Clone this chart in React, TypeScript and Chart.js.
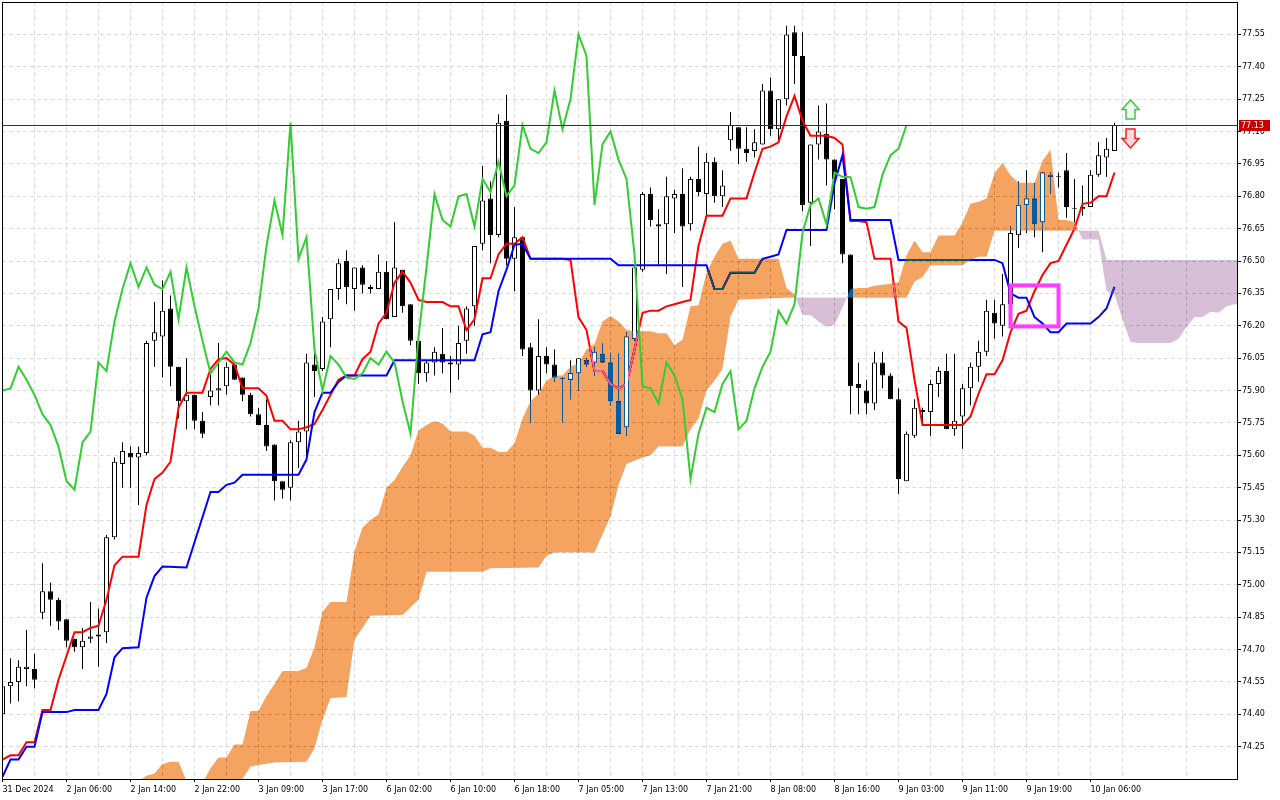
import React, { useEffect, useRef } from 'react';
import { Chart, registerables } from 'chart.js';

Chart.register(...registerables);

// H1 candles, bar 0 .. 139
const opens = [
  74.40, 74.53, 74.55, 74.61, 74.61, 74.87, 74.97, 74.93, 74.84, 74.75,
  74.71, 74.75, 74.76, 74.78, 75.22, 75.56, 75.61, 75.59, 75.61, 76.13,
  76.15, 76.28, 76.01, 75.85, 75.88, 75.76, 75.87, 75.90, 75.92, 76.02,
  75.96, 75.88, 75.79, 75.74, 75.65, 75.48, 75.45, 75.66, 75.71, 76.02,
  76.00, 76.23, 76.37, 76.50, 76.37, 76.47, 76.38, 76.37, 76.45, 76.24,
  76.46, 76.30, 76.13, 75.98, 76.03, 76.07, 76.03, 76.02, 76.13, 76.29,
  76.58, 76.79, 76.62, 77.15, 76.51, 76.61, 76.10, 75.90, 76.06, 76.02,
  75.957, 75.95, 75.98, 76.04, 76.03, 76.07, 76.03, 75.85, 75.73, 76.14,
  76.46, 76.81, 76.67, 76.67, 76.79, 76.81, 76.67, 76.88, 76.81, 76.96,
  76.80, 77.06, 77.12, 77.02, 77.01, 77.04, 77.29, 77.11, 77.25, 77.56,
  77.45, 76.77, 77.04, 77.09, 76.97, 76.88, 76.53, 75.93, 75.90, 75.84,
  76.03, 75.97, 75.86, 75.48, 75.69, 75.81, 75.80, 75.93, 75.99, 75.72,
  75.78, 75.91, 76.01, 76.08, 76.26, 76.20, 76.30, 76.62, 76.76, 76.79,
  76.68, 76.90, 76.893, 76.92, 76.745, 76.74, 76.75, 76.90, 76.98, 77.01,
];
const highs = [
  74.78, 74.66, 74.65, 74.79, 74.68, 75.10, 75.01, 74.94, 74.84, 74.75,
  74.80, 74.92, 74.89, 75.23, 75.59, 75.66, 75.64, 75.64, 76.13, 76.31,
  76.41, 76.34, 76.01, 76.05, 75.88, 75.80, 75.99, 76.12, 76.03, 76.02,
  75.96, 75.89, 75.82, 75.86, 75.65, 75.48, 75.67, 75.76, 76.07, 76.07,
  76.24, 76.37, 76.51, 76.55, 76.47, 76.48, 76.39, 76.53, 76.50, 76.68,
  76.46, 76.30, 76.13, 76.04, 76.10, 76.19, 76.06, 76.20, 76.29, 76.57,
  76.94, 76.87, 77.18, 77.27, 76.75, 76.61, 76.12, 76.23, 76.10, 76.09,
  75.96, 76.04, 76.05, 76.05, 76.10, 76.12, 76.07, 76.07, 76.17, 76.48,
  76.82, 76.84, 76.74, 76.89, 76.83, 76.93, 76.89, 77.03, 77.00, 76.98,
  76.92, 77.19, 77.12, 77.12, 77.11, 77.32, 77.35, 77.25, 77.59, 77.59,
  77.56, 77.04, 77.22, 77.23, 76.97, 76.88, 76.53, 76.03, 75.95, 76.08,
  76.08, 75.98, 75.91, 75.71, 75.86, 75.82, 75.95, 76.01, 76.07, 76.07,
  75.93, 76.03, 76.13, 76.32, 76.32, 76.44, 76.66, 76.87, 76.92, 76.86,
  76.91, 76.91, 76.91, 77.00, 76.88, 76.85, 76.92, 77.05, 77.07, 77.14,
];
const lows = [
  74.38, 74.45, 74.46, 74.53, 74.52, 74.84, 74.81, 74.79, 74.71, 74.69,
  74.61, 74.73, 74.62, 74.73, 75.21, 75.45, 75.45, 75.37, 75.60, 76.01,
  75.96, 75.92, 75.77, 75.72, 75.72, 75.68, 75.83, 75.83, 75.88, 75.95,
  75.85, 75.78, 75.74, 75.62, 75.39, 75.40, 75.39, 75.54, 75.58, 75.87,
  75.99, 76.10, 76.32, 76.30, 76.27, 76.35, 76.35, 76.37, 76.23, 76.24,
  76.26, 76.11, 75.93, 75.94, 75.97, 75.98, 75.89, 75.95, 76.07, 76.20,
  76.55, 76.49, 76.61, 76.48, 76.36, 76.06, 75.75, 75.88, 75.98, 75.94,
  75.75, 75.86, 75.90, 76.01, 75.97, 76.03, 75.83, 75.70, 75.69, 76.13,
  76.45, 76.66, 76.48, 76.44, 76.63, 76.38, 76.64, 76.80, 76.71, 76.77,
  76.75, 77.01, 76.95, 76.96, 76.98, 77.04, 77.08, 77.06, 77.22, 77.32,
  76.73, 76.57, 76.97, 76.85, 76.74, 76.49, 75.79, 75.79, 75.79, 75.81,
  75.91, 75.86, 75.42, 75.48, 75.68, 75.74, 75.69, 75.87, 75.72, 75.69,
  75.63, 75.83, 75.94, 76.06, 76.14, 76.15, 76.27, 76.56, 76.63, 76.61,
  76.54, 76.81, 76.84, 76.70, 76.68, 76.71, 76.75, 76.89, 76.89, 77.01,
];
const closes = [
  74.53, 74.55, 74.62, 74.62, 74.56, 74.97, 74.93, 74.83, 74.74, 74.71,
  74.74, 74.76, 74.77, 75.22, 75.57, 75.62, 75.59, 75.61, 76.12, 76.17,
  76.27, 76.01, 75.85, 75.88, 75.76, 75.70, 75.90, 75.91, 76.01, 75.95,
  75.88, 75.79, 75.74, 75.64, 75.48, 75.44, 75.66, 75.71, 76.03, 75.99,
  76.22, 76.37, 76.49, 76.38, 76.47, 76.39, 76.37, 76.45, 76.23, 76.47,
  76.29, 76.13, 75.98, 76.03, 76.08, 76.03, 76.02, 76.12, 76.28, 76.57,
  76.78, 76.62, 77.14, 76.51, 76.61, 76.09, 75.90, 76.06, 76.02, 75.96,
  75.953, 75.98, 76.05, 76.02, 76.08, 76.03, 75.85, 75.70, 76.15, 76.47,
  76.81, 76.69, 76.66, 76.80, 76.81, 76.66, 76.88, 76.82, 76.96, 76.80,
  76.85, 77.13, 77.02, 77.00, 77.05, 77.29, 77.11, 77.25, 77.55, 77.45,
  76.76, 77.04, 77.10, 76.97, 76.88, 76.53, 75.92, 75.91, 75.84, 76.03,
  75.97, 75.86, 75.49, 75.70, 75.82, 75.80, 75.93, 75.99, 75.72, 75.76,
  75.91, 76.01, 76.08, 76.27, 76.21, 76.30, 76.63, 76.76, 76.79, 76.67,
  76.91, 76.89, 76.888, 76.75, 76.742, 76.75, 76.90, 76.99, 77.02, 77.13,
];

// Tenkan-sen, one value per bar
const tenkan = [
  74.19, 74.21, 74.21, 74.27, 74.27, 74.42, 74.42, 74.56, 74.67, 74.78,
  74.78, 74.80, 74.81, 74.93, 75.09, 75.13, 75.13, 75.13, 75.37, 75.49,
  75.52, 75.57, 75.82, 75.89, 75.89, 75.89, 76.00, 76.045, 76.05, 76.02,
  75.91, 75.91, 75.91, 75.875, 75.76, 75.76, 75.72, 75.72, 75.73, 75.745,
  75.81, 75.88, 75.95, 75.97, 75.97, 76.045, 76.08, 76.21, 76.26, 76.40,
  76.45, 76.40, 76.32, 76.31, 76.31, 76.31, 76.29, 76.29, 76.18, 76.23,
  76.42, 76.42, 76.53, 76.58, 76.58, 76.61, 76.51, 76.51, 76.51, 76.51,
  76.51, 76.505, 76.24, 76.18, 75.99, 75.99, 75.93, 75.91, 75.93, 76.09,
  76.26, 76.27, 76.27, 76.29, 76.30, 76.31, 76.32, 76.57, 76.71, 76.71,
  76.71, 76.79, 76.79, 76.79, 76.91, 77.02, 77.03, 77.05, 77.17, 77.265,
  77.15, 77.08, 77.08, 77.08, 77.07, 77.04, 76.685, 76.685, 76.68, 76.51,
  76.51, 76.51, 76.22, 76.19, 75.95, 75.74, 75.74, 75.74, 75.74, 75.74,
  75.74, 75.78, 75.885, 75.975, 75.975, 76.04, 76.17, 76.255, 76.27, 76.36,
  76.435, 76.49, 76.50, 76.575, 76.65, 76.765, 76.77, 76.80, 76.80, 76.91,
];

// Kijun-sen, [bar, price] at every bend
const kijun: [number, number][] = [
  [0, 74.11], [1, 74.19], [2, 74.19], [3, 74.25], [4, 74.25], [5, 74.41], [8, 74.41],
  [9, 74.42], [12, 74.42], [13, 74.494], [14, 74.664], [15, 74.706], [17, 74.71],
  [18, 74.94], [19, 75.04], [20, 75.084], [23, 75.08], [26, 75.43], [27, 75.43],
  [28, 75.463], [29, 75.473], [30, 75.51], [37, 75.51], [38, 75.58], [39, 75.80],
  [40, 75.89], [41, 75.89], [42, 75.94], [43, 75.97], [48, 75.97], [49, 76.04],
  [59, 76.04], [60, 76.16], [61, 76.17], [62, 76.36], [63, 76.46], [64, 76.575],
  [65, 76.58], [66, 76.51], [76, 76.51], [77, 76.48], [88, 76.48], [89, 76.37],
  [90, 76.37], [91, 76.446], [94, 76.446], [95, 76.51], [96, 76.52], [97, 76.53],
  [98, 76.644], [103, 76.644], [104, 76.86], [105, 76.99], [106, 76.69], [111, 76.69],
  [112, 76.505], [124, 76.505], [125, 76.49], [126, 76.35], [127, 76.33], [128, 76.33],
  [129, 76.24], [130, 76.21], [131, 76.17], [132, 76.17], [133, 76.21], [136, 76.21],
  [137, 76.24], [138, 76.28], [139, 76.38],
];

// Senkou span A, one value per bar starting at SPAN_A_FIRST
const SPAN_A_FIRST = 16;
const spanA = [
  74.05, 74.09, 74.115, 74.125, 74.17, 74.18, 74.18, 74.09, 74.06, 74.08,
  74.15, 74.20, 74.20, 74.26, 74.26, 74.415, 74.415, 74.485, 74.54, 74.60,
  74.60, 74.60, 74.615, 74.71, 74.875, 74.92, 74.92, 74.92, 75.155, 75.265,
  75.30, 75.325, 75.45, 75.485, 75.545, 75.60, 75.715, 75.74, 75.757, 75.747,
  75.71, 75.71, 75.71, 75.69, 75.635, 75.635, 75.615, 75.615, 75.655, 75.77,
  75.85, 75.885, 75.945, 75.97, 75.97, 76.01, 76.025, 76.09, 76.115, 76.22,
  76.245, 76.22, 76.18, 76.175, 76.175, 76.175, 76.165, 76.165, 76.11, 76.135,
  76.29, 76.295, 76.445, 76.52, 76.58, 76.595, 76.51, 76.51, 76.51, 76.51,
  76.51, 76.51, 76.375, 76.345, 76.25, 76.25, 76.22, 76.195, 76.205, 76.285,
  76.37, 76.375, 76.375, 76.385, 76.39, 76.395, 76.40, 76.525, 76.595, 76.54,
  76.54, 76.618, 76.618, 76.618, 76.678, 76.765, 76.775, 76.79, 76.907, 76.955,
  76.897, 76.862, 76.862, 76.862, 76.965, 77.015, 76.69, 76.69, 76.68, 76.60,
  76.60, 76.60, 76.36, 76.345, 76.23, 76.125, 76.12, 76.12, 76.12, 76.12,
  76.12, 76.14, 76.195, 76.24, 76.24, 76.265, 76.26, 76.29, 76.30, 76.30,
];

// Senkou span B, [bar, price] at every bend
const spanB: [number, number][] = [
  [15, 73.95], [30, 74.10], [31, 74.157], [32, 74.165], [34, 74.176], [38, 74.18],
  [39, 74.243], [40, 74.374], [41, 74.474], [43, 74.48], [44, 74.744], [46, 74.856],
  [50, 74.86], [52, 74.93], [53, 75.06], [60, 75.06], [61, 75.077], [67, 75.08],
  [68, 75.134], [69, 75.15], [74, 75.15], [76, 75.316], [77, 75.46], [78, 75.56],
  [79, 75.575], [80, 75.59], [81, 75.60], [82, 75.64], [85, 75.64], [86, 75.72],
  [87, 75.77], [88, 75.90], [89, 75.945], [90, 76.00], [91, 76.24], [92, 76.32],
  [98, 76.33], [113, 76.33], [114, 76.405], [115, 76.425], [116, 76.48], [120, 76.48],
  [121, 76.505], [122, 76.52], [123, 76.52], [124, 76.64], [137, 76.64], [138, 76.505],
  [155, 76.505],
];

// Chikou span: the closes drawn 26 bars back
const CHIKOU_SHIFT = 26;

const xLabels = [
  '31 Dec 2024', '2 Jan 06:00', '2 Jan 14:00', '2 Jan 22:00', '3 Jan 09:00', '3 Jan 17:00',
  '6 Jan 02:00', '6 Jan 10:00', '6 Jan 18:00', '7 Jan 05:00', '7 Jan 13:00', '7 Jan 21:00',
  '8 Jan 08:00', '8 Jan 16:00', '9 Jan 03:00', '9 Jan 11:00', '9 Jan 19:00', '10 Jan 06:00',
];
const xGridBars = [
  0, 4, 8, 12, 16, 20, 24, 28, 32, 36, 40, 44, 48, 52, 56, 60, 64, 68, 72, 76,
  80, 84, 88, 92, 96, 100, 104, 108, 112, 116, 120, 124, 128, 132, 136, 140, 144, 148, 152,
];
const yTicks = [
  74.25, 74.40, 74.55, 74.70, 74.85, 75.00, 75.15, 75.30, 75.45, 75.60, 75.75, 75.90,
  76.05, 76.20, 76.35, 76.50, 76.65, 76.80, 76.95, 77.10, 77.25, 77.40, 77.55,
];

// annotations
const highlightBox = { from: 126, to: 132, top: 76.387, bottom: 76.197 };
const buyArrow = { bar: 141, price: 77.158 };
const sellArrow = { bar: 141, price: 77.112 };

const SPAN_B_INDEX = 4;
const SPAN_A_INDEX = 5;
const axisFont = { family: 'DejaVu Sans', size: 8 };
const gridColor = '#dcdcdc';

const lineAt = (pts: [number, number][], x: number) => {
  for (let k = 1; k < pts.length; k++) {
    const [x0, y0] = pts[k - 1];
    const [x1, y1] = pts[k];
    if (x >= x0 && x <= x1) return y0 + ((y1 - y0) * (x - x0)) / (x1 - x0);
  }
  return NaN;
};

const insideCloud = (i: number) => {
  const a = spanA[i - SPAN_A_FIRST];
  const b = lineAt(spanB, i);
  if (a === undefined || isNaN(b)) return false;
  const lo = Math.min(a, b);
  const hi = Math.max(a, b);
  const bLo = Math.min(opens[i], closes[i]);
  const bHi = Math.max(opens[i], closes[i]);
  return bHi > lo && bLo < hi;
};

const drawArrow = (ctx: CanvasRenderingContext2D, cx: number, y0: number, dir: number, stroke: string, fill: string) => {
  ctx.beginPath();
  ctx.moveTo(cx - 4.5, y0);
  ctx.lineTo(cx - 4.5, y0 + dir * 9.5);
  ctx.lineTo(cx - 8.5, y0 + dir * 9.5);
  ctx.lineTo(cx, y0 + dir * 19);
  ctx.lineTo(cx + 8.5, y0 + dir * 9.5);
  ctx.lineTo(cx + 4.5, y0 + dir * 9.5);
  ctx.lineTo(cx + 4.5, y0);
  ctx.closePath();
  ctx.fillStyle = fill;
  ctx.fill();
  ctx.strokeStyle = stroke;
  ctx.lineWidth = 1.5;
  ctx.stroke();
};

const decorPlugin = {
  id: 'ichimokuDecor',
  beforeDraw(chart: any) {
    const { ctx, width, height } = chart;
    ctx.save();
    ctx.fillStyle = '#ffffff';
    ctx.fillRect(0, 0, width, height);
    ctx.restore();
  },
  afterDatasetDraw(chart: any, args: any) {
    // the cloud is blended like the terminal does it: lines and black candles change colour inside it
    if (args.index === SPAN_B_INDEX) chart.ctx.globalCompositeOperation = 'difference';
    if (args.index === SPAN_A_INDEX) chart.ctx.globalCompositeOperation = 'source-over';
  },
  afterDatasetsDraw(chart: any) {
    const { ctx, chartArea: area, scales } = chart;
    const x = scales.x;
    const y = scales.y;
    ctx.save();
    ctx.globalCompositeOperation = 'source-over';

    const last = closes[closes.length - 1];
    const py = Math.round(y.getPixelForValue(last)) + 0.5;
    ctx.strokeStyle = '#a80000';
    ctx.lineWidth = 1;
    ctx.beginPath();
    ctx.moveTo(area.left, py);
    ctx.lineTo(area.right, py);
    ctx.stroke();

    const bx0 = x.getPixelForValue(highlightBox.from);
    const bx1 = x.getPixelForValue(highlightBox.to);
    const by0 = y.getPixelForValue(highlightBox.top);
    const by1 = y.getPixelForValue(highlightBox.bottom);
    ctx.strokeStyle = '#ff3cff';
    ctx.lineWidth = 4;
    ctx.strokeRect(bx0, by0, bx1 - bx0, by1 - by0);

    drawArrow(ctx, x.getPixelForValue(buyArrow.bar), y.getPixelForValue(buyArrow.price), -1, '#3ccc3c', '#f0fff0');
    drawArrow(ctx, x.getPixelForValue(sellArrow.bar), y.getPixelForValue(sellArrow.price), 1, '#f02020', '#ffdada');
    ctx.restore();
  },
  afterDraw(chart: any) {
    const { ctx, chartArea: area, scales } = chart;
    ctx.save();
    ctx.strokeStyle = '#000';
    ctx.lineWidth = 1;
    ctx.strokeRect(area.left + 0.5, area.top + 0.5, area.right - area.left, area.bottom - area.top);

    const last = closes[closes.length - 1];
    const py = Math.round(scales.y.getPixelForValue(last));
    ctx.fillStyle = '#c80000';
    ctx.fillRect(area.right + 2, py - 5, 31, 11);
    ctx.fillStyle = '#ffffff';
    ctx.font = '8px "DejaVu Sans"';
    ctx.textAlign = 'left';
    ctx.textBaseline = 'middle';
    ctx.fillText(last.toFixed(2), area.right + 4, py + 0.5);
    ctx.restore();
  },
};

const App: React.FC = () => {
  const canvasRef = useRef<HTMLCanvasElement | null>(null);

  useEffect(() => {
    document.body.style.margin = '0';
    if (!canvasRef.current) return;

    const bars = opens.map((_, i) => i);
    const wickData = bars.map((i) => ({ x: i, y: [lows[i], highs[i]] }));
    const bodyData = bars.map((i) => ({ x: i, y: [opens[i], closes[i]] }));
    const innerData = bars
      .filter((i) => closes[i] > opens[i] && insideCloud(i))
      .map((i) => ({ x: i, y: [opens[i], closes[i]] }));
    const tenkanData = tenkan.map((v, i) => ({ x: i, y: v }));
    const kijunData = kijun.map(([bx, v]) => ({ x: bx, y: v }));
    const spanAData = spanA.map((v, i) => ({ x: i + SPAN_A_FIRST, y: v }));
    const spanBData = spanB.map(([bx, v]) => ({ x: bx, y: v }));
    const chikouData = closes.slice(CHIKOU_SHIFT).map((v, i) => ({ x: i, y: v }));

    const lineBase = { type: 'line', pointRadius: 0, borderWidth: 2, fill: false, tension: 0 };

    const chart = new Chart(canvasRef.current, {
      type: 'bar',
      data: {
        datasets: [
          { type: 'bar', data: wickData, backgroundColor: '#000', borderWidth: 0, barThickness: 1, grouped: false, inflateAmount: 0, minBarLength: 1, order: 9 },
          {
            type: 'bar',
            data: bodyData,
            backgroundColor: (c: any) => (closes[c.dataIndex] > opens[c.dataIndex] ? '#ffffff' : '#000000'),
            borderColor: '#000',
            borderWidth: 1,
            borderSkipped: false,
            barThickness: 5,
            minBarLength: 1,
            grouped: false,
            inflateAmount: 0,
            order: 8,
          },
          { ...lineBase, data: tenkanData, borderColor: '#ff0000', order: 7 },
          { ...lineBase, data: kijunData, borderColor: '#0000ff', order: 6 },
          { ...lineBase, data: spanBData, borderColor: 'rgba(0,0,0,0)', borderWidth: 1, order: 5 },
          {
            ...lineBase,
            data: spanAData,
            borderColor: 'rgba(0,0,0,0)',
            borderWidth: 1,
            // complements of sandybrown / thistle, blended with 'difference'
            fill: { target: SPAN_B_INDEX, above: 'rgb(11,91,159)', below: 'rgb(39,64,39)' },
            order: 4,
          },
          { type: 'bar', data: innerData, backgroundColor: '#ffffff', borderColor: 'rgba(0,0,0,0)', borderWidth: 1, borderSkipped: false, barThickness: 5, grouped: false, inflateAmount: 0, order: 3 },
          { ...lineBase, data: chikouData, borderColor: '#32cd32', order: 2 },
        ] as any,
      },
      options: {
        animation: false,
        responsive: false,
        events: [],
        layout: { padding: { left: 2, top: 2, right: 0, bottom: 0 } },
        plugins: {
          legend: { display: false },
          tooltip: { enabled: false },
        },
        scales: {
          x: {
            type: 'linear',
            min: -0.0625,
            max: 154.3125,
            offset: false,
            afterBuildTicks: (s: any) => {
              s.ticks = xGridBars.map((v) => ({ value: v }));
            },
            afterFit: (s: any) => {
              s.height = 21;
              s.paddingLeft = 0;
              s.paddingRight = 0;
            },
            ticks: {
              autoSkip: false,
              maxRotation: 0,
              minRotation: 0,
              align: 'start',
              padding: 3,
              color: '#000',
              font: axisFont,
              callback: (v: any) => (v % 8 === 0 ? xLabels[v / 8] : ''),
            },
            grid: {
              offset: false,
              color: gridColor,
              tickLength: 3,
              tickColor: (c: any) => (c.tick && c.tick.value % 8 === 0 ? '#000' : 'rgba(0,0,0,0)'),
            },
            border: { display: false, dash: [4, 3] },
          },
          y: {
            position: 'right',
            min: 74.1,
            max: 77.7,
            afterBuildTicks: (s: any) => {
              s.ticks = yTicks.map((v) => ({ value: v }));
            },
            afterFit: (s: any) => {
              s.width = 43;
              s.paddingTop = 0;
              s.paddingBottom = 0;
            },
            ticks: {
              autoSkip: false,
              padding: 1,
              color: '#000',
              font: axisFont,
              callback: (v: any) => Number(v).toFixed(2),
            },
            grid: { color: gridColor, tickLength: 4, tickColor: '#000' },
            border: { display: false, dash: [4, 3] },
          },
        },
      } as any,
      plugins: [decorPlugin],
    });

    return () => {
      chart.destroy();
    };
  }, []);

  return (
    <div style={{ position: 'absolute', left: 0, top: 0, width: 1280, height: 800, background: '#fff' }}>
      <canvas ref={canvasRef} width={1280} height={800} style={{ display: 'block' }} />
    </div>
  );
};

export default App;
